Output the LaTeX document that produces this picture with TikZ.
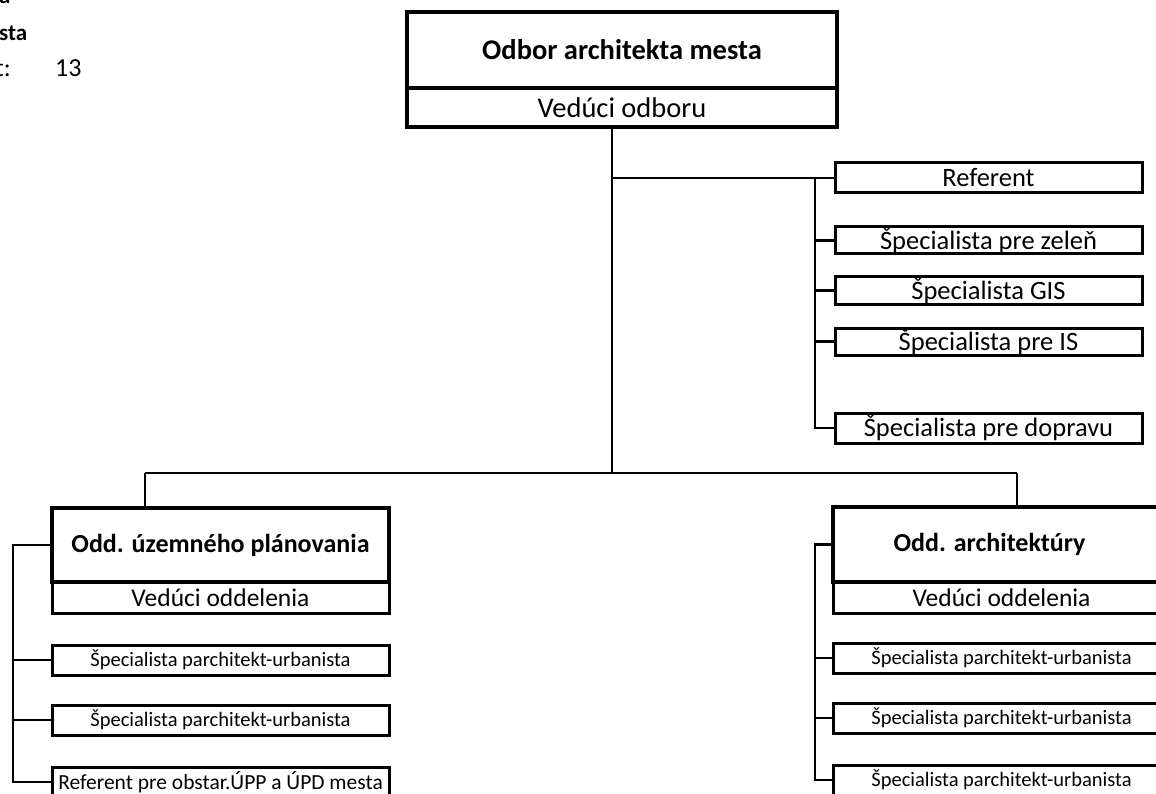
\documentclass[tikz,border=0pt]{standalone}
\usepackage{fontspec}
\setmainfont{Carlito}
\begin{document}
\begin{tikzpicture}[x=1pt,y=-1pt,
  hd/.style={draw, line width=4.5pt, anchor=north west, inner sep=0pt, outer sep=0pt, font=\fontsize{26}{30}\selectfont\bfseries},
  ld/.style={draw, line width=3pt, anchor=north west, inner sep=0pt, outer sep=0pt, font=\fontsize{25.5}{30}\selectfont},
  rbx/.style={draw, line width=3pt, anchor=north west, inner sep=0pt, outer sep=0pt, minimum width=307pt, font=\fontsize{26.5}{30}\selectfont},
  sbx/.style={draw, line width=3pt, anchor=north west, inner sep=0pt, outer sep=0pt, minimum width=337pt, minimum height=30pt, font=\fontsize{20.5}{24}\selectfont},
  ln/.style={line width=2.8pt},
  corner/.style={anchor=base west, inner sep=0pt, font=\fontsize{26}{30}\selectfont}
]
\useasboundingbox (0,0) rectangle (1156,794);

% top-left fragments
\node[corner, font=\fontsize{23}{28}\selectfont\bfseries] (t1) at (-1,4) {a};
\node[corner, font=\fontsize{23}{28}\selectfont\bfseries] (t2) at (-1,41) {sta};
\node[corner] (t3) at (-5,77) {t:};
\node[corner] (t4) at (55,77) {13};

% top box
\node[hd, font=\fontsize{28.5}{32}\selectfont\bfseries, minimum width=430pt, minimum height=76pt] (top) at (407,12) {Odbor architekta mesta};
\node[ld, line width=4.5pt, font=\fontsize{28.5}{32}\selectfont, minimum width=430pt, minimum height=39pt] (topv) at (407,88) {Vedúci odboru};

% right staff boxes
\node[rbx, minimum height=30pt] (ref) at (835,163) {Referent};
\node[rbx, minimum height=27pt] (zel) at (835,227) {Špecialista pre zeleň};
\node[rbx, minimum height=27pt] (gis) at (835,277) {Špecialista GIS};
\node[rbx, minimum height=27pt] (is)  at (835,328) {Špecialista pre IS};
\node[rbx, minimum height=30pt] (dop) at (835,413) {Špecialista pre dopravu};

% left department
\node[hd, minimum width=337pt, minimum height=74pt] (dL) at (52,508) {Odd. územného plánovania};
\node[ld, minimum width=337pt, minimum height=31pt] (dLv) at (52,582) {Vedúci oddelenia};
\node[sbx] (ls1) at (52,645) {Špecialista parchitekt-urbanista};
\node[sbx] (ls2) at (52,705) {Špecialista parchitekt-urbanista};
\node[sbx, font=\fontsize{21.5}{24}\selectfont] (ls3) at (52,767) {Referent pre obstar.ÚPP a ÚPD mesta};

% right department
\node[hd, minimum width=337pt, minimum height=75pt] (dR) at (833,507) {\hspace*{-24pt}Odd. architektúry};
\node[ld, minimum width=337pt, minimum height=31pt] (dRv) at (833,582) {Vedúci oddelenia};
\node[sbx] (rs1) at (833,643) {Špecialista parchitekt-urbanista};
\node[sbx] (rs2) at (833,703) {Špecialista parchitekt-urbanista};
\node[sbx] (rs3) at (833,765) {Špecialista parchitekt-urbanista};

% coordinates
\coordinate (a1) at (612,178);
\coordinate (a3) at (612,473);
\coordinate (rb) at (815,0);
\coordinate (hl) at (145,473);
\coordinate (hr) at (1017,473);
\coordinate (lb) at (13,0);

% connectors
\draw[ln] (topv.south -| a1) -- (a3);
\draw[ln] (a1) -- (ref.west);
\draw[ln] (ref.west -| rb) |- (dop.west);
\draw[ln] (zel.west -| rb) -- (zel.west);
\draw[ln] (gis.west -| rb) -- (gis.west);
\draw[ln] (is.west -| rb) -- (is.west);
\draw[ln] (hl) -- (hr);
\draw[ln] (hl) -- (dL.north -| hl);
\draw[ln] (hr) -- (dR.north -| hr);
\draw[ln] (dL.west) -- (dL.west -| lb) |- (ls3.west);
\draw[ln] (ls1.west -| lb) -- (ls1.west);
\draw[ln] (ls2.west -| lb) -- (ls2.west);
\draw[ln] (dR.west) -- (dR.west -| rb) |- (rs3.west);
\draw[ln] (rs1.west -| rb) -- (rs1.west);
\draw[ln] (rs2.west -| rb) -- (rs2.west);
\end{tikzpicture}
\end{document}
